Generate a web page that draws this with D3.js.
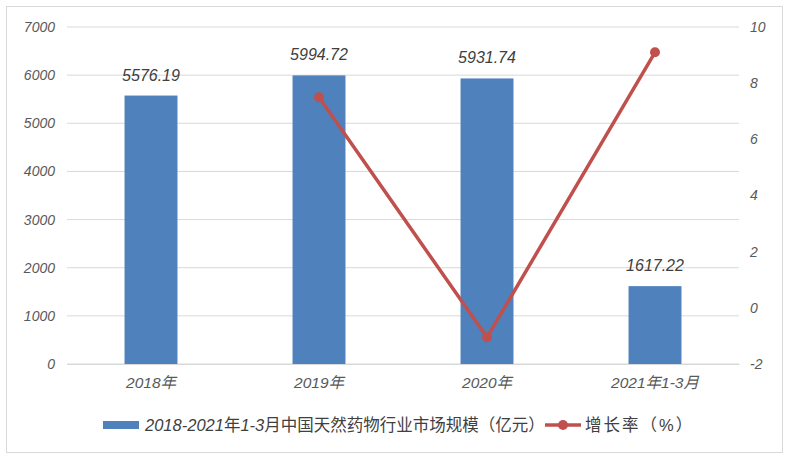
<!DOCTYPE html>
<html><head><meta charset="utf-8">
<script src="https://cdn.jsdelivr.net/npm/d3@7"></script>
<style>body{margin:0;background:#fff;} svg{display:block;}</style>
</head><body>
<svg id="c" width="789" height="458"></svg>
<script>
const categories = ["2018年", "2019年", "2020年", "2021年1-3月"];
const marketSize = [5576.19, 5994.72, 5931.74, 1617.22];
const growthRate = [null, 7.5, -1.05, 9.1];
const leftTicks = [0, 1000, 2000, 3000, 4000, 5000, 6000, 7000];
const rightTicks = [-2, 0, 2, 4, 6, 8, 10];
const barName = "2018-2021年1-3月中国天然药物行业市场规模（亿元）";
const lineName = "增长率（%）";

const svg = d3.select("#c");
const FONT = "'Liberation Sans','Noto Sans CJK SC',sans-serif";
const m = {l: 67, r: 739, t: 27, b: 364};

svg.append("rect").attr("x", 6.5).attr("y", 6.5).attr("width", 776).attr("height", 446)
  .attr("fill", "#fff").attr("stroke", "#d9d9d9");

const x = d3.scaleBand().domain(categories).range([m.l, m.r]).paddingInner(0.685).paddingOuter(0.3425);
const yL = d3.scaleLinear().domain([0, 7000]).range([m.b, m.t]);
const yR = d3.scaleLinear().domain([-2, 10]).range([m.b, m.t]);

// gridlines
svg.append("g").selectAll("line").data(leftTicks).join("line")
  .attr("x1", m.l).attr("x2", m.r).attr("y1", d => yL(d)).attr("y2", d => yL(d))
  .attr("stroke", "#d9d9d9").attr("stroke-width", 1);

// left axis
const gl = svg.append("g").attr("transform", `translate(${m.l},0)`)
  .call(d3.axisLeft(yL).tickValues(leftTicks).tickFormat(d3.format("d")).tickSize(0).tickPadding(12));
gl.select(".domain").remove();
gl.selectAll("text").attr("font-family", FONT).attr("font-size", 14).attr("font-style", "italic").attr("fill", "#595959");

// right axis
const gr = svg.append("g").attr("transform", `translate(${m.r},0)`)
  .call(d3.axisRight(yR).tickValues(rightTicks).tickFormat(d => String(d)).tickSize(0).tickPadding(11));
gr.select(".domain").remove();
gr.selectAll("text").attr("font-family", FONT).attr("font-size", 14).attr("font-style", "italic").attr("fill", "#595959");

// bottom axis
const gb = svg.append("g").attr("transform", `translate(0,${m.b})`)
  .call(d3.axisBottom(x).tickSize(0).tickPadding(13));
gb.select(".domain").attr("stroke", "#d9d9d9");
gb.selectAll("text").attr("font-family", FONT).attr("font-size", 15.5).attr("font-style", "italic").attr("fill", "#595959");

// bars
svg.append("g").selectAll("rect").data(marketSize).join("rect")
  .attr("x", (d, i) => x(categories[i])).attr("width", x.bandwidth())
  .attr("y", d => yL(d)).attr("height", d => yL(0) - yL(d))
  .attr("fill", "#4F81BD");

// bar labels
svg.append("g").selectAll("text").data(marketSize).join("text")
  .attr("x", (d, i) => x(categories[i]) + x.bandwidth() / 2).attr("y", d => yL(d) - 15)
  .attr("text-anchor", "middle").attr("font-family", FONT).attr("font-size", 16)
  .attr("font-style", "italic").attr("fill", "#404040")
  .text(d => d.toFixed(2));

// line
const pts = growthRate.map((v, i) => ({v, c: categories[i]})).filter(d => d.v !== null);
const line = d3.line().x(d => x(d.c) + x.bandwidth() / 2).y(d => yR(d.v));
svg.append("path").datum(pts).attr("d", line).attr("fill", "none")
  .attr("stroke", "#C0504D").attr("stroke-width", 3.5).attr("stroke-linejoin", "round");
svg.append("g").selectAll("circle").data(pts).join("circle")
  .attr("cx", d => x(d.c) + x.bandwidth() / 2).attr("cy", d => yR(d.v)).attr("r", 5)
  .attr("fill", "#C0504D");

// legend
const lg = svg.append("g").attr("font-family", FONT).attr("font-size", 16.5).attr("fill", "#404040");
lg.append("rect").attr("x", 103).attr("y", 421).attr("width", 36).attr("height", 8).attr("fill", "#4F81BD");
const t1 = lg.append("text").attr("x", 145).attr("y", 431).attr("fill", "#404040");
barName.split(/([0-9\-]+)/).forEach(s => {
  if (!s) return;
  t1.append("tspan").attr("font-style", /[0-9]/.test(s) ? "italic" : "normal").text(s);
});
lg.append("line").attr("x1", 545).attr("x2", 581).attr("y1", 425).attr("y2", 425)
  .attr("stroke", "#C0504D").attr("stroke-width", 3.5);
lg.append("circle").attr("cx", 563).attr("cy", 425).attr("r", 5).attr("fill", "#C0504D");
lg.append("text").attr("x", 585).attr("y", 431).attr("fill", "#404040").attr("letter-spacing", 2).text(lineName);
</script>
</body></html>
